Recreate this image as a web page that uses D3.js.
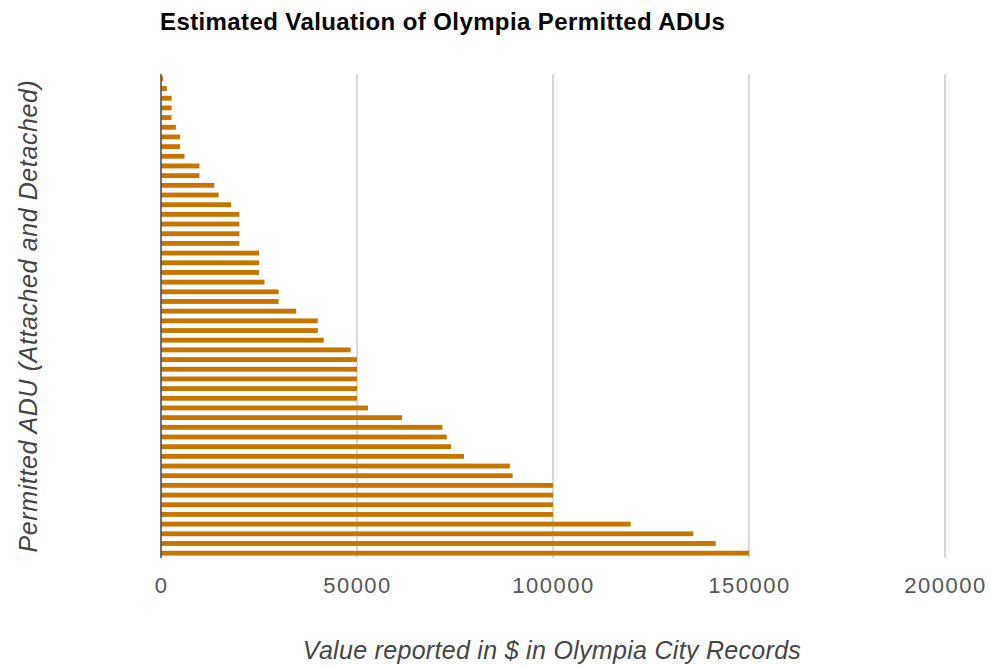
<!DOCTYPE html>
<html>
<head>
<meta charset="utf-8">
<script src="https://cdn.jsdelivr.net/npm/d3@7"></script>
<style>
  html, body { margin: 0; padding: 0; background: #fff; }
  svg { display: block; }
</style>
</head>
<body>
<svg id="chart" width="990" height="666"></svg>
<script>
// Reported valuation (USD) of each permitted ADU, in listed order
const valuations = [
  500, 1500, 2700, 2700, 2700, 3800, 4900, 4900, 6000, 9800,
  9800, 13600, 14700, 17900, 20000, 20000, 20000, 20000, 25000, 25000,
  25000, 26400, 30000, 30000, 34500, 40000, 40000, 41500, 48400, 50000,
  50000, 50000, 50000, 50000, 52800, 61500, 71800, 72900, 74000, 77300,
  89000, 89700, 100000, 100000, 100000, 100000, 119800, 135800, 141500, 150000
];
const xTicks = [0, 50000, 100000, 150000, 200000];
const title = "Estimated Valuation of Olympia Permitted ADUs";
const xTitle = "Value reported in $ in Olympia City Records";
const yTitle = "Permitted ADU (Attached and Detached)";

const svg = d3.select("#chart");
const plot = { left: 161, right: 945, top: 74, bottom: 558 };

const x = d3.scaleLinear().domain([0, 200000]).range([plot.left, plot.right]);
const y = d3.scaleBand()
  .domain(d3.range(valuations.length))
  .range([plot.top, plot.bottom])
  .paddingInner(0.5)
  .paddingOuter(0.25);

// vertical gridlines
svg.append("g")
  .selectAll("line")
  .data(xTicks.filter(t => t > 0))
  .join("line")
  .attr("x1", d => x(d)).attr("x2", d => x(d))
  .attr("y1", plot.top).attr("y2", plot.bottom)
  .attr("stroke", "#cccccc")
  .attr("stroke-width", 1.5);

// bars
svg.append("g")
  .selectAll("rect")
  .data(valuations)
  .join("rect")
  .attr("x", x(0))
  .attr("y", (d, i) => y(i))
  .attr("width", d => x(d) - x(0))
  .attr("height", y.bandwidth())
  .attr("fill", "#c67500");

// zero baseline
svg.append("line")
  .attr("x1", x(0)).attr("x2", x(0))
  .attr("y1", plot.top).attr("y2", plot.bottom)
  .attr("stroke", "#444")
  .attr("stroke-width", 1.5);

// x tick labels
const xAxis = d3.axisBottom(x).tickValues(xTicks).tickSize(0).tickPadding(0).tickFormat(d3.format("d"));
const gx = svg.append("g")
  .attr("transform", `translate(0, ${plot.bottom + 35})`)
  .call(xAxis);
gx.select(".domain").remove();
gx.selectAll("text")
  .attr("dy", 0)
  .attr("fill", "#555")
  .style("font-family", "'Liberation Sans', Arial, sans-serif")
  .style("font-size", "22px")
  .style("letter-spacing", "1.5px");

// title
svg.append("text")
  .attr("x", 160).attr("y", 30)
  .attr("fill", "#000")
  .style("font-family", "'Liberation Sans', Arial, sans-serif")
  .style("font-weight", "bold")
  .style("font-size", "24px")
  .style("letter-spacing", "0.4px")
  .text(title);

// x axis title
svg.append("text")
  .attr("x", 552).attr("y", 659)
  .attr("text-anchor", "middle")
  .attr("fill", "#444")
  .style("font-family", "'Liberation Sans', Arial, sans-serif")
  .style("font-style", "italic")
  .style("font-size", "25px")
  .style("letter-spacing", "0.3px")
  .text(xTitle);

// y axis title
svg.append("text")
  .attr("transform", `translate(37, 316) rotate(-90)`)
  .attr("text-anchor", "middle")
  .attr("fill", "#444")
  .style("font-family", "'Liberation Sans', Arial, sans-serif")
  .style("font-style", "italic")
  .style("font-size", "25px")
  .style("letter-spacing", "0.6px")
  .text(yTitle);
</script>
</body>
</html>
